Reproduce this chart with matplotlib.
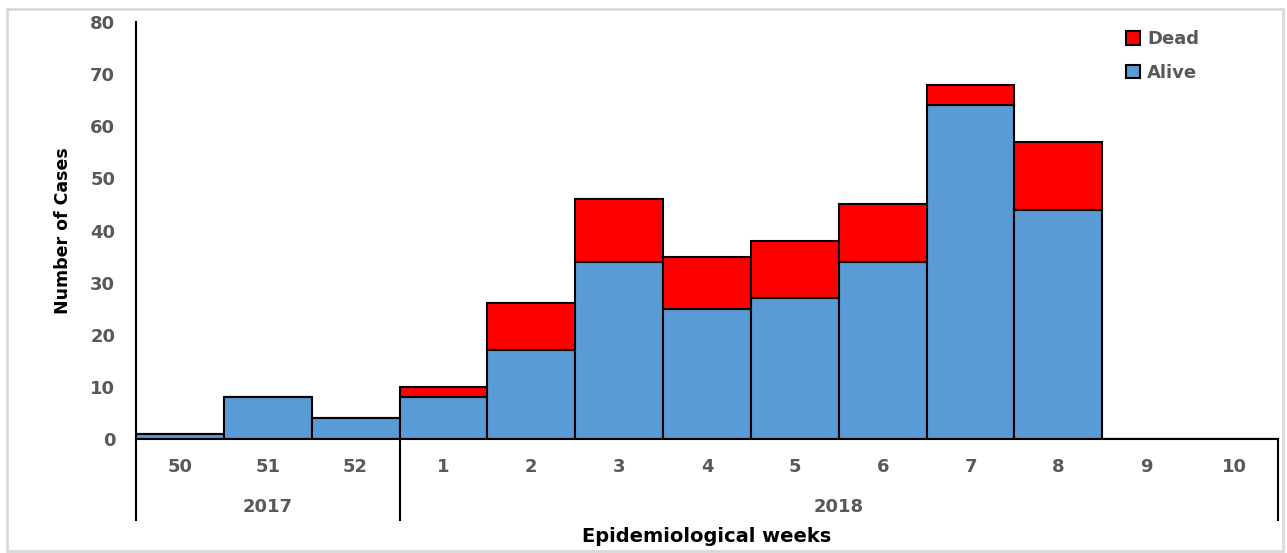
import matplotlib
matplotlib.use("Agg")
import matplotlib.pyplot as plt
from matplotlib.patches import Patch, Rectangle
import numpy as np

weeks = ["50", "51", "52", "1", "2", "3", "4", "5", "6", "7", "8", "9", "10"]
alive = [1, 8, 4, 8, 17, 34, 25, 27, 34, 64, 44, 0, 0]
dead = [0, 0, 0, 2, 9, 12, 10, 11, 11, 4, 13, 0, 0]
years = ["2017", "2018"]
year_counts = [3, 10]

BLUE = "#5B9BD5"
RED = "#FF0000"
GREY = "#595959"

W, H = 1287, 553
fig = plt.figure(figsize=(W / 100, H / 100), dpi=100)
ax = fig.add_axes([136 / W, (H - 439) / H, (1278 - 136) / W, (439 - 22) / H])

x = np.arange(len(weeks))
ax.bar(x, alive, width=1.0, color=BLUE, edgecolor="black", linewidth=1.5, label="Alive")
ax.bar(x, dead, width=1.0, bottom=alive, color=RED, edgecolor="black", linewidth=1.5, label="Dead")

ax.set_xlim(-0.5, len(weeks) - 0.5)
ax.set_ylim(0, 80)
ax.set_yticks(np.arange(0, 81, 10))
ax.tick_params(axis="y", length=0, pad=15, labelsize=13, labelcolor=GREY)
for lab in ax.get_yticklabels():
    lab.set_fontweight("bold")
ax.set_xticks([])

for s in ["top", "right"]:
    ax.spines[s].set_visible(False)
ax.spines["left"].set_linewidth(1.5)
ax.spines["bottom"].set_linewidth(1.5)

trans = ax.get_xaxis_transform()
ybot = -0.195
# week labels
for xi, w in zip(x, weeks):
    ax.text(xi, -0.068, w, transform=trans, ha="center", va="center",
            fontsize=13, fontweight="bold", color=GREY)
# year separators and labels
start = -0.5
bounds = [start]
for c in year_counts:
    bounds.append(bounds[-1] + c)
for b in bounds:
    ax.plot([b, b], [0, ybot], transform=trans, color="black", lw=1.5, clip_on=False)
for i, yr in enumerate(years):
    mid = (bounds[i] + bounds[i + 1]) / 2
    ax.text(mid, -0.164, yr, transform=trans, ha="center", va="center",
            fontsize=13, fontweight="bold", color=GREY)

ax.set_ylabel("Number of Cases", fontsize=12.5, fontweight="bold")
ax.yaxis.set_label_coords((72 - 136) / (1278 - 136), 0.5)
fig.text((136 + 1278) / 2 / W, 1 - 536 / H, "Epidemiological weeks", ha="center",
         va="center", fontsize=14, fontweight="bold")

handles = [Patch(facecolor=RED, edgecolor="black", linewidth=1.5, label="Dead"),
           Patch(facecolor=BLUE, edgecolor="black", linewidth=1.5, label="Alive")]
leg = ax.legend(handles=handles, loc="upper left", bbox_to_anchor=(1110 / W, 1 - 14 / H),
                bbox_transform=fig.transFigure, frameon=False, fontsize=13,
                handlelength=0.75, handleheight=0.75, handletextpad=0.4, labelspacing=0.85)
for t in leg.get_texts():
    t.set_color(GREY)
    t.set_fontweight("bold")

fig.patches.append(Rectangle((7 / W, 1 - 551 / H), (1283 - 7) / W, (551 - 9) / H,
                             transform=fig.transFigure, fill=False,
                             edgecolor="#D9D9D9", linewidth=2))

fig.savefig("out.png", dpi=100)
